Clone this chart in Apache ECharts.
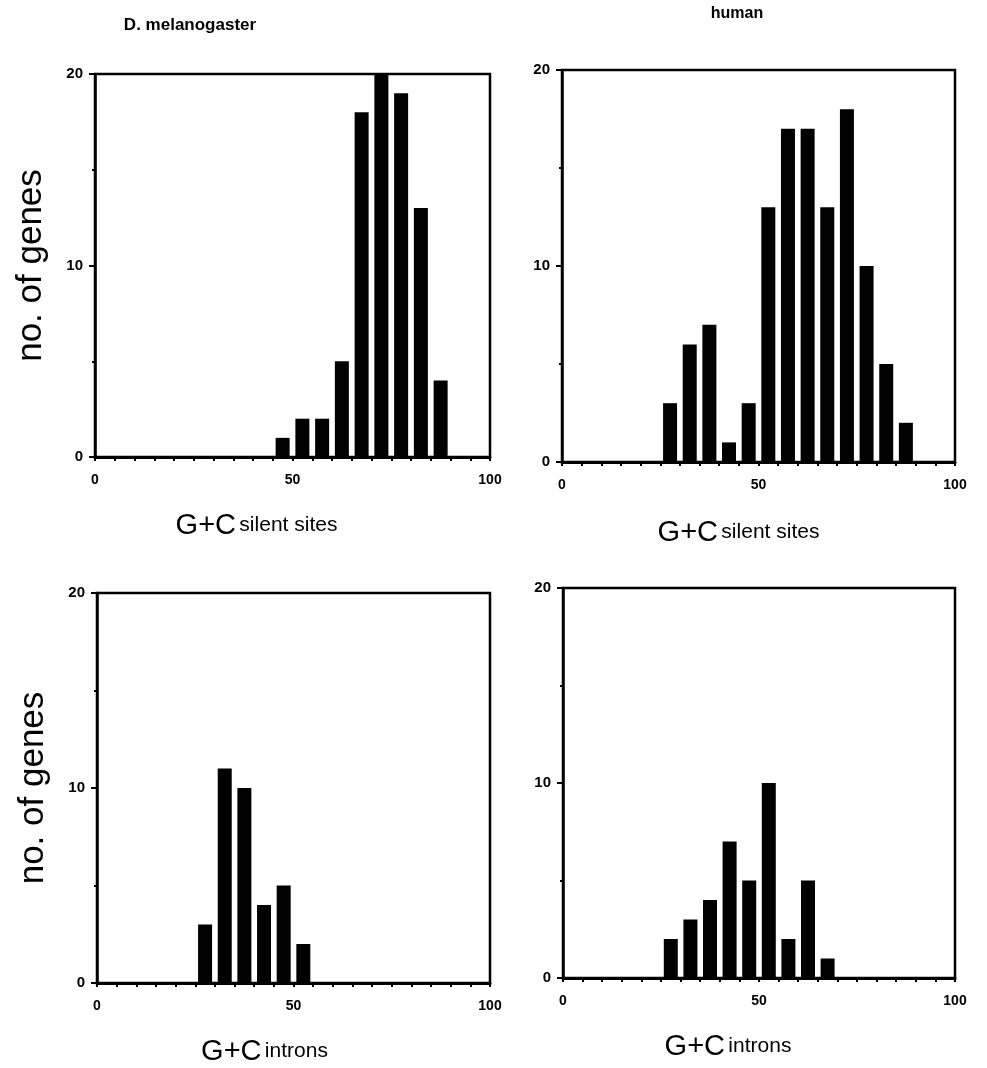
<!DOCTYPE html>
<html>
<head>
<meta charset="utf-8">
<script src="https://cdn.jsdelivr.net/npm/echarts@6/dist/echarts.min.js"></script>
<style>
html,body{margin:0;padding:0;background:#fff;}
#chart{width:987px;height:1068px;}
</style>
</head>
<body>
<div id="chart"></div>
<script>
// Bin centres (G+C %, 5% bins)
const bins = [2.5, 7.5, 12.5, 17.5, 22.5, 27.5, 32.5, 37.5, 42.5, 47.5,
              52.5, 57.5, 62.5, 67.5, 72.5, 77.5, 82.5, 87.5, 92.5, 97.5];
// Counts (no. of genes) per bin
const drosSilent   = [0,0,0,0,0,0,0,0,0,1,2,2,5,18,20,19,13,4,0,0];
const humanSilent  = [0,0,0,0,0,3,6,7,1,3,13,17,17,13,18,10,5,2,0,0];
const drosIntrons  = [0,0,0,0,0,3,11,10,4,5,2,0,0,0,0,0,0,0,0,0];
const humanIntrons = [0,0,0,0,0,2,3,4,7,5,10,2,5,1,0,0,0,0,0,0];
// Tick labels / text
const xTicks = [0, 50, 100];
const yTicks = [0, 10, 20];
const columnTitles = ['D. melanogaster', 'human'];
const yTitle = 'no. of genes';
const xTitles = [['G+C', 'silent sites'], ['G+C', 'silent sites'], ['G+C', 'introns'], ['G+C', 'introns']];

const FONT = '"Liberation Sans", Arial, Helvetica, sans-serif';
const panels = [
  {data: drosSilent,   grid: {left: 95,  top: 74,  width: 395, height: 383}, nameShift: -36, showY: true,  gap: 54},
  {data: humanSilent,  grid: {left: 562, top: 70,  width: 393, height: 392}, nameShift: -20, showY: false, gap: 56},
  {data: drosIntrons,  grid: {left: 97,  top: 593, width: 393, height: 390}, nameShift: -29, showY: true,  gap: 54},
  {data: humanIntrons, grid: {left: 563, top: 588, width: 392, height: 390}, nameShift: -31, showY: false, gap: 54}
];

const grids = [], xAxes = [], yAxes = [], series = [];
panels.forEach((p, i) => {
  grids.push(Object.assign({show: true, borderColor: '#000', borderWidth: 2.5, backgroundColor: 'transparent'}, p.grid));
  const shift = p.nameShift;
  xAxes.push({
    type: 'value', gridIndex: i, min: xTicks[0], max: xTicks[xTicks.length - 1], interval: 50,
    axisLine: {show: true, lineStyle: {color: '#000', width: 3}},
    axisTick: {show: true, length: 4, lineStyle: {color: '#000', width: 2}},
    minorTick: {show: true, splitNumber: 10, length: 4, lineStyle: {color: '#000', width: 2}},
    splitLine: {show: false},
    axisLabel: {show: true, margin: 16, color: '#000', fontFamily: FONT, fontWeight: 'bold', fontSize: 14},
    name: '{a|' + xTitles[i][0] + '} {b|' + xTitles[i][1] + '}',
    nameLocation: 'middle', nameGap: p.gap,
    nameTextStyle: {
      padding: shift < 0 ? [0, -2 * shift, 0, 0] : [0, 0, 0, 2 * shift],
      rich: {
        a: {fontFamily: FONT, fontSize: 29, color: '#000'},
        b: {fontFamily: FONT, fontSize: 21, color: '#000'}
      }
    }
  });
  yAxes.push({
    type: 'value', gridIndex: i, min: yTicks[0], max: yTicks[yTicks.length - 1], interval: 10,
    axisLine: {show: true, lineStyle: {color: '#000', width: 2.5}},
    axisTick: {show: true, length: 6, lineStyle: {color: '#000', width: 2}},
    minorTick: {show: true, splitNumber: 2, length: 3, lineStyle: {color: '#000', width: 2}},
    splitLine: {show: false},
    axisLabel: {show: true, margin: 12, color: '#000', fontFamily: FONT, fontWeight: 'bold', fontSize: 15},
    name: p.showY ? yTitle : '',
    nameLocation: 'middle', nameRotate: 90, nameGap: 46,
    nameTextStyle: {fontFamily: FONT, fontSize: 35, color: '#000'}
  });
  series.push({
    type: 'bar', xAxisIndex: i, yAxisIndex: i, barWidth: 14,
    itemStyle: {color: '#000'},
    data: bins.map((b, k) => [b, p.data[k]]).filter(d => d[1] > 0),
    silent: true
  });
});

const chart = echarts.init(document.getElementById('chart'), null, {renderer: 'canvas'});
chart.setOption({
  backgroundColor: '#fff',
  animation: false,
  grid: grids, xAxis: xAxes, yAxis: yAxes, series: series,
  graphic: [
    {type: 'text', x: 190, y: 25, style: {text: columnTitles[0], font: 'bold 17px ' + FONT, fill: '#000', textAlign: 'center', textVerticalAlign: 'middle'}},
    {type: 'text', x: 737, y: 14, style: {text: columnTitles[1], font: 'bold 16px ' + FONT, fill: '#000', textAlign: 'center', textVerticalAlign: 'middle'}}
  ]
});
</script>
</body>
</html>
